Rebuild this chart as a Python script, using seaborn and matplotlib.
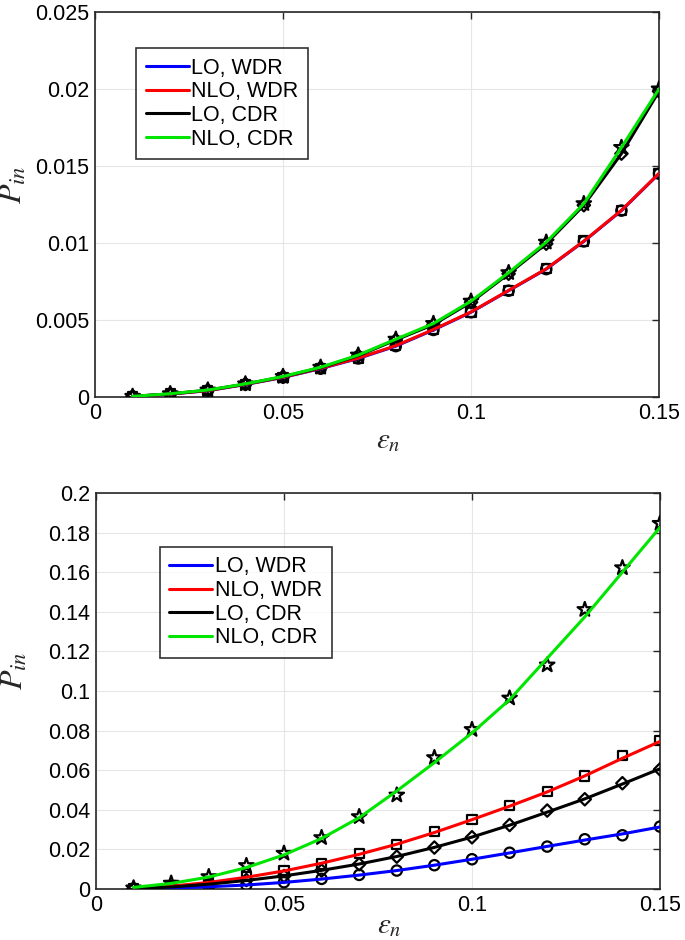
import numpy as np
import pandas as pd
import seaborn as sns
from matplotlib import pyplot as plt

# x values (epsilon_n) shared by every curve
eps = [0.01, 0.02, 0.03, 0.04, 0.05, 0.06, 0.07, 0.08, 0.09, 0.10, 0.11, 0.12, 0.13, 0.14, 0.15]

# top panel (markers and curves coincide closely)
top_lo_wdr = [0.00003, 0.00019, 0.00041, 0.00081, 0.00127, 0.00184, 0.00250, 0.00330, 0.00435,
              0.00550, 0.00690, 0.00830, 0.01010, 0.01210, 0.01450]
top_nlo_wdr = [0.00003, 0.00019, 0.00041, 0.00082, 0.00128, 0.00186, 0.00252, 0.00333, 0.00438,
               0.00552, 0.00692, 0.00832, 0.01012, 0.01212, 0.01452]
top_lo_cdr = [0.00004, 0.00020, 0.00044, 0.00084, 0.00131, 0.00190, 0.00268, 0.00370, 0.00470,
              0.00615, 0.00800, 0.00995, 0.01245, 0.01580, 0.01985]
top_nlo_cdr = [0.00004, 0.00021, 0.00045, 0.00085, 0.00133, 0.00193, 0.00272, 0.00375, 0.00477,
               0.00622, 0.00807, 0.01005, 0.01255, 0.01620, 0.02000]

# bottom panel markers
bot_lo_wdr = [0.0001, 0.0005, 0.0012, 0.0020, 0.0034, 0.0051, 0.0071, 0.0093, 0.0120,
              0.0150, 0.0183, 0.0214, 0.0251, 0.0271, 0.0315]
bot_nlo_wdr = [0.0003, 0.0015, 0.0035, 0.0062, 0.0093, 0.0126, 0.0178, 0.0224, 0.0291,
               0.0352, 0.0421, 0.0492, 0.0571, 0.0673, 0.0749]
bot_lo_cdr = [0.0002, 0.0010, 0.0025, 0.0045, 0.0065, 0.0093, 0.0125, 0.0163, 0.0209,
              0.0261, 0.0323, 0.0396, 0.0453, 0.0534, 0.0604]
bot_nlo_cdr = [0.0005, 0.0029, 0.0062, 0.0118, 0.0180, 0.0259, 0.0365, 0.0474, 0.0663,
               0.0805, 0.0964, 0.1131, 0.1411, 0.1622, 0.1846]

# bottom panel curves (they are smoother than the markers)
bot_lo_wdr_line = [0.0001, 0.0005, 0.0011, 0.0020, 0.0033, 0.0050, 0.0070, 0.0093, 0.0120,
                   0.0150, 0.0182, 0.0215, 0.0247, 0.0278, 0.0313]
bot_nlo_wdr_line = [0.0003, 0.0014, 0.0033, 0.0059, 0.0091, 0.0130, 0.0175, 0.0226, 0.0285,
                    0.0350, 0.0418, 0.0490, 0.0571, 0.0660, 0.0745]
bot_lo_cdr_line = [0.0002, 0.0010, 0.0024, 0.0043, 0.0066, 0.0094, 0.0126, 0.0164, 0.0210,
                   0.0262, 0.0322, 0.0388, 0.0455, 0.0530, 0.0607]
bot_nlo_cdr_line = [0.0008, 0.0028, 0.0060, 0.0108, 0.0172, 0.0255, 0.0360, 0.0495, 0.0638,
                    0.0788, 0.0956, 0.1165, 0.1374, 0.1600, 0.1826]

labels = ["LO, WDR", "NLO, WDR", "LO, CDR", "NLO, CDR"]
colors = ["#0000ff", "#ff0000", "#000000", "#00e600"]
markers = ["o", "s", "D", "*"]
marker_sizes = [55, 45, 40, 120]

sns.set_style("white")
plt.rcParams['font.family'] = ['Liberation Sans', 'DejaVu Sans']
plt.rcParams['mathtext.fontset'] = 'stix'


def draw_panel(ax, marks, curves, ymax, yticks, yticklabels, legend_anchor, xlab_y):
    for mvals, cvals, lab, col, mk, ms in zip(marks, curves, labels, colors, markers, marker_sizes):
        dm = pd.DataFrame({"eps": eps, "P": mvals})
        dc = pd.DataFrame({"eps": eps, "P": cvals})
        sns.scatterplot(data=dm, x="eps", y="P", ax=ax, marker=mk, s=ms,
                        facecolors="none", edgecolor="black", linewidth=1.6, zorder=3)
        sns.lineplot(data=dc, x="eps", y="P", ax=ax, color=col, linewidth=2.2,
                     label=lab, zorder=4)
    ax.set_xlim(0, 0.15)
    ax.set_ylim(0, ymax)
    ax.set_xticks([0, 0.05, 0.1, 0.15])
    ax.set_xticklabels(["0", "0.05", "0.1", "0.15"])
    ax.set_yticks(yticks)
    ax.set_yticklabels(yticklabels)
    ax.grid(True, color="#e6e6e6", linewidth=0.8)
    ax.tick_params(direction="in", length=5, width=1, labelsize=15.5, colors="#262626",
                   top=True, right=True, labelcolor="black", pad=4)
    for sp in ax.spines.values():
        sp.set_color("#262626")
        sp.set_linewidth(1.2)
    ax.set_xlabel(r"$\varepsilon_n$", fontsize=21, labelpad=0)
    ax.xaxis.set_label_coords(0.52, xlab_y)
    ax.set_ylabel(r"$P_{in}$", fontsize=23, labelpad=4)
    ax.yaxis.set_label_coords(-0.117, 0.55)
    leg = ax.legend(loc="upper left", bbox_to_anchor=legend_anchor, fontsize=15.5,
                    frameon=True, fancybox=False, edgecolor="black", handlelength=2.0,
                    handletextpad=0.1, borderpad=0.45, labelspacing=0.12, borderaxespad=0)
    leg.get_frame().set_linewidth(1.2)
    for txt in leg.get_texts():
        txt.set_color("black")
    for line in leg.get_lines():
        line.set_linewidth(2.2)


fig = plt.figure(figsize=(6.85, 9.4), dpi=100)
ax1 = fig.add_axes([0.1387, 0.5777, 0.8234, 0.4096])
ax2 = fig.add_axes([0.1401, 0.0543, 0.8234, 0.4213])

draw_panel(ax1, [top_lo_wdr, top_nlo_wdr, top_lo_cdr, top_nlo_cdr],
           [top_lo_wdr, top_nlo_wdr, top_lo_cdr, top_nlo_cdr], 0.025,
           [0, 0.005, 0.01, 0.015, 0.02, 0.025],
           ["0", "0.005", "0.01", "0.015", "0.02", "0.025"], (0.073, 0.906), -0.075)
draw_panel(ax2, [bot_lo_wdr, bot_nlo_wdr, bot_lo_cdr, bot_nlo_cdr],
           [bot_lo_wdr_line, bot_nlo_wdr_line, bot_lo_cdr_line, bot_nlo_cdr_line], 0.2,
           list(np.round(np.arange(0, 0.21, 0.02), 2)),
           ["0", "0.02", "0.04", "0.06", "0.08", "0.1", "0.12", "0.14", "0.16", "0.18", "0.2"],
           (0.113, 0.864), -0.055)

fig.savefig("out.png", dpi=100)
